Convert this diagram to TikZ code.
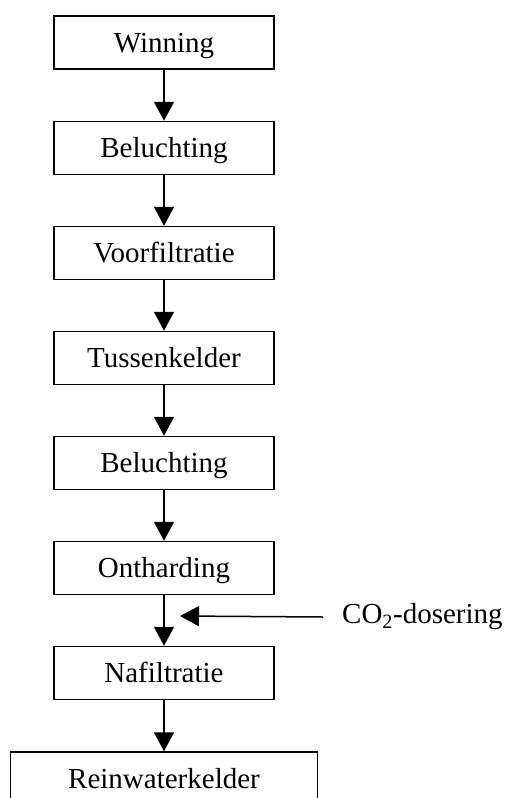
\documentclass[tikz,border=0pt]{standalone}
\usepackage{fontspec}
\setmainfont{Liberation Serif}
\usetikzlibrary{arrows.meta}

\begin{document}
\begin{tikzpicture}[x=1pt, y=-1pt,
    stap/.style={draw, line width=1.5pt, minimum width=220pt, minimum height=53pt, inner sep=0pt, text height=19pt, text depth=0pt, font=\fontsize{29}{34}\selectfont},
    pijl/.style={line width=1.5pt, -{Triangle[width=20pt, length=19pt]}}]

    \useasboundingbox (0,0) rectangle (506,798);
    \clip (0,0) rectangle (506,798);

    % Process steps
    \node[stap] (winning) at (164, 42.5) {Winning};
    \node[stap] (belucht1) at (164, 148) {Beluchting};
    \node[stap] (voorfilt) at (164, 253) {Voorfiltratie};
    \node[stap] (tussen) at (164, 358) {Tussenkelder};
    \node[stap] (belucht2) at (164, 463) {Beluchting};
    \node[stap] (onthard) at (164, 568) {Ontharding};
    \node[stap] (nafilt) at (164, 673) {Nafiltratie};

    % Last step is wider and runs off the page
    \node[stap, minimum width=307pt] (rein) at (164, 778.5) {Reinwaterkelder};

    % Flow between the steps
    \draw[pijl] (winning) -- (belucht1);
    \draw[pijl] (belucht1) -- (voorfilt);
    \draw[pijl] (voorfilt) -- (tussen);
    \draw[pijl] (tussen) -- (belucht2);
    \draw[pijl] (belucht2) -- (onthard);
    \draw[pijl] (onthard) -- (nafilt);
    \draw[pijl] (nafilt) -- (rein);

    % CO2 dosing
    \coordinate (inlaat) at (180, 616);
    \node[anchor=west, inner sep=0pt, font=\fontsize{29}{34}\selectfont] (co2) at (342, 617) {CO\textsubscript{2}-dosering};
    \draw[pijl] ([xshift=-19pt]co2.west) -- (inlaat);
\end{tikzpicture}
\end{document}
